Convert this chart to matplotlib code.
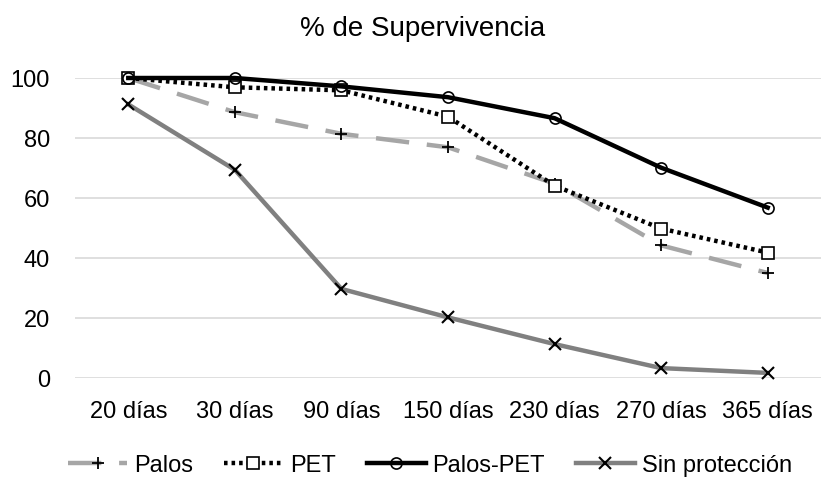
import numpy as np
import matplotlib.pyplot as plt

dias = ['20 días', '30 días', '90 días', '150 días', '230 días', '270 días', '365 días']
palos = [100, 88.6, 81.4, 76.9, 64.8, 44.2, 35.0]
pet = [100, 96.9, 95.9, 87.1, 64.1, 49.8, 41.8]
palos_pet = [100, 100, 97.2, 93.6, 86.6, 70.1, 56.8]
sin_prot = [91.2, 69.4, 29.7, 20.2, 11.3, 3.3, 1.7]

plt.rcParams['font.family'] = ['Liberation Sans', 'DejaVu Sans']

fig = plt.figure(figsize=(8.21, 4.81), dpi=100)
ax = fig.add_axes([75 / 821, 1 - 379 / 481, 746 / 821, 300 / 481])

x = np.arange(len(dias))
ax.plot(x, palos, color='#A6A6A6', lw=3.2, ls=(0, (7.5, 4)), marker='+', ms=9,
        mec='black', mew=1.3, label='Palos', clip_on=False, zorder=3)
ax.plot(x, pet, color='black', lw=3.2, ls=(0, (0.8, 0.9)), marker='s', ms=8,
        mfc='white', mec='black', mew=1.2, label='PET', clip_on=False, zorder=4)
ax.plot(x, palos_pet, color='black', lw=3.2, marker='o', ms=8,
        mfc='none', mec='black', mew=1.2, label='Palos-PET', clip_on=False, zorder=5)
ax.plot(x, sin_prot, color='#808080', lw=3.2, marker='x', ms=9,
        mec='black', mew=1.5, label='Sin protección', clip_on=False, zorder=3)

ax.set_xlim(-0.5, 6.5)
ax.set_ylim(0, 100)
ax.set_yticks(range(0, 101, 20))
ax.set_xticks(x)
ax.set_xticklabels(dias)
ax.grid(axis='y', color='#D9D9D9', lw=1.2)
ax.set_axisbelow(True)
for s in ax.spines.values():
    s.set_visible(False)
ax.tick_params(length=0, labelsize=17, colors='black')
ax.tick_params(axis='x', pad=16)
ax.tick_params(axis='y', pad=18)

fig.text(423 / 821, 1 - 29 / 481, '% de Supervivencia', ha='center', va='center', fontsize=20)

ax.legend(loc='center', bbox_to_anchor=(0.476, -0.29), ncol=4, frameon=False,
          fontsize=17, handlelength=2.5, handletextpad=0.3, columnspacing=1.3)

fig.savefig('out.png', dpi=100)
